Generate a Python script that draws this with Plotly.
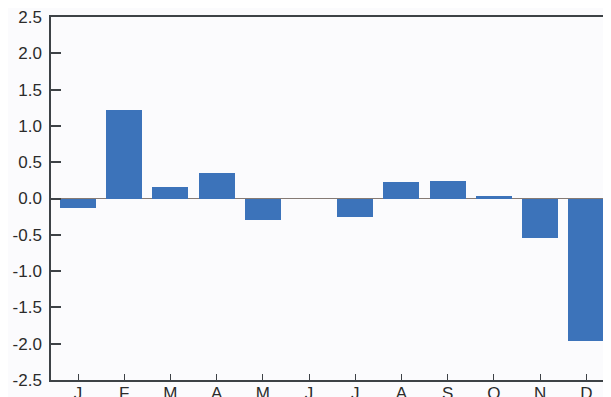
import plotly.graph_objects as go

months = ["J", "F", "M", "A", "M", "J", "J", "A", "S", "O", "N", "D"]
values = [-0.13, 1.22, 0.155, 0.355, -0.30, 0.0, -0.25, 0.225, 0.235, 0.03, -0.55, -1.96]
y_ticks = [-2.5, -2.0, -1.5, -1.0, -0.5, 0.0, 0.5, 1.0, 1.5, 2.0, 2.5]
y_labels = ["-2.5", "-2.0", "-1.5", "-1.0", "-0.5", "0.0", "0.5", "1.0", "1.5", "2.0", "2.5"]

x_pos = list(range(len(months)))

fig = go.Figure()
fig.add_trace(go.Bar(
    x=x_pos, y=values, width=0.78,
    marker=dict(color="#3c73ba", line=dict(width=0)),
    showlegend=False, hoverinfo="skip",
))
# invisible trace on the right-hand tick axis
fig.add_trace(go.Scatter(x=[0], y=[0], yaxis="y2", mode="markers",
                         marker=dict(opacity=0), showlegend=False, hoverinfo="skip"))

axis_color = "#3d4246"
# the page body adds an 8px offset; the figure is sized to fill the rest of the window
fig.update_layout(
    width=603, height=389,
    margin=dict(l=43, r=0, t=9, b=17),
    paper_bgcolor="#fbfbfd", plot_bgcolor="#fbfbfd",
    bargap=0,
    font=dict(family="Liberation Sans, Arial, sans-serif", size=17, color="#2b2b2b"),
    xaxis=dict(
        range=[-0.585, 11.535], automargin=False,
        tickmode="array", tickvals=x_pos, ticktext=months,
        ticks="inside", ticklen=6, tickwidth=1.2, tickcolor=axis_color,
        showline=True, linecolor=axis_color, linewidth=1.5, mirror=True,
        showgrid=False, zeroline=False,
        ticklabelstandoff=-3, ticklabeloverflow="allow",
        tickfont=dict(size=17, color="#2b2b2b"),
    ),
    yaxis=dict(
        range=[-2.5, 2.5], automargin=False,
        tickmode="array", tickvals=y_ticks, ticktext=y_labels,
        ticks="inside", ticklen=10, tickwidth=1.5, tickcolor=axis_color,
        showline=True, linecolor=axis_color, linewidth=1.5,
        showgrid=False,
        zeroline=True, zerolinecolor="#857a74", zerolinewidth=1,
        ticklabelstandoff=4, ticklabeloverflow="allow",
        tickfont=dict(size=17, color="#2b2b2b"),
    ),
    yaxis2=dict(
        range=[-2.5, 2.5], overlaying="y", side="right", anchor="x", automargin=False,
        tickmode="array", tickvals=y_ticks,
        ticks="inside", ticklen=8, tickwidth=1.5, tickcolor=axis_color,
        showticklabels=False, showline=False, showgrid=False, zeroline=False,
    ),
)

fig.write_html("out.html")
